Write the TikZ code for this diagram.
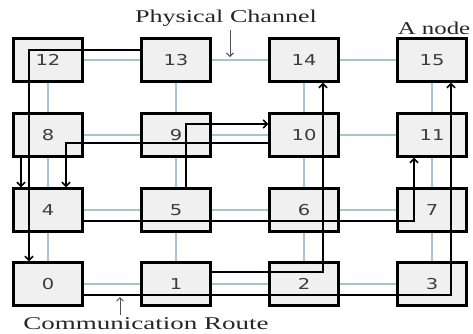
\documentclass[tikz,border=0pt]{standalone}
\usepackage{fontspec}
\usepackage{graphicx}
\setmainfont{Liberation Serif}
\newfontfamily\numfont{DejaVu Sans}
\usetikzlibrary{arrows.meta}
\definecolor{chancol}{HTML}{A9C1D1}
\definecolor{boxfill}{HTML}{F0F0F0}
\definecolor{numcol}{HTML}{3C3C3C}
\definecolor{notecol}{HTML}{505050}
\tikzset{
  router/.style={draw=black, line width=2.4pt, fill=boxfill,
    minimum width=69pt, minimum height=43pt, inner sep=0pt,
    font=\numfont\fontsize{15}{16}\selectfont, text=numcol},
  channel/.style={draw=chancol, line width=1.8pt},
  route/.style={draw=black, line width=1.8pt,
    -{Straight Barb[length=4pt,width=8pt,line width=1.6pt]}},
  caption/.style={font=\fontsize{18}{20}\selectfont, text=black!85, inner sep=0pt},
  note/.style={draw=notecol, line width=0.9pt,
    -{Straight Barb[length=3.5pt,width=7pt,line width=0.9pt]}}
}
\newcommand{\wide}[2]{\scalebox{#1}[1]{#2}}
\begin{document}
\begin{tikzpicture}[x=1pt,y=-1pt]
\useasboundingbox (0,0) rectangle (473,333);

% 4x4 mesh of nodes
\foreach \r/\yy in {0/284,1/210,2/135,3/60}{
  \foreach \c/\xx in {0/48,1/176,2/304,3/432}{
    \pgfmathtruncatemacro{\id}{4*\r+\c}
    \node[router] (n\id) at (\xx,\yy) {\wide{1.3}{\id}};
  }
}

% physical channels between neighbouring nodes
\foreach \a/\b in {0/1,1/2,2/3,4/5,5/6,6/7,8/9,9/10,10/11,12/13,13/14,14/15,
                   0/4,4/8,8/12,1/5,5/9,9/13,2/6,6/10,10/14,3/7,7/11,11/15}{
  \draw[channel] (n\a) -- (n\b);
}

% communication routes
\draw[route] ([yshift=10pt]n13.west) -| ([xshift=-19pt]n0.north);
\draw[route] ([xshift=-27pt]n8.south) -- ([xshift=-27pt]n4.north);
\draw[route] ([yshift=-8pt]n10.west) -| ([xshift=18pt]n4.north);
\draw[route] ([xshift=10pt]n5.north) |- ([yshift=11pt]n10.west);
\draw[route] ([yshift=-11pt]n4.east) -| ([xshift=-18pt]n11.south);
\draw[route] ([yshift=-11pt]n0.east) -| ([xshift=19pt]n15.south);
\draw[route] ([yshift=12pt]n1.east) -| ([xshift=19pt]n14.south);

% captions with pointers
\node[caption] (pc) at (226,18) {\wide{1.45}{Physical Channel}};
\coordinate (pctail) at (230,30);
\coordinate (pctip) at (230,57);
\draw[note] (pctail) -- (pctip);

\node[caption] (an) at (434,28) {\wide{1.38}{A node}};

\node[caption] (cr) at (146,324) {\wide{1.5}{Communication Route}};
\coordinate (crtail) at (120,315);
\coordinate (crtip) at (120,297);
\draw[note] (crtail) -- (crtip);
\end{tikzpicture}
\end{document}
